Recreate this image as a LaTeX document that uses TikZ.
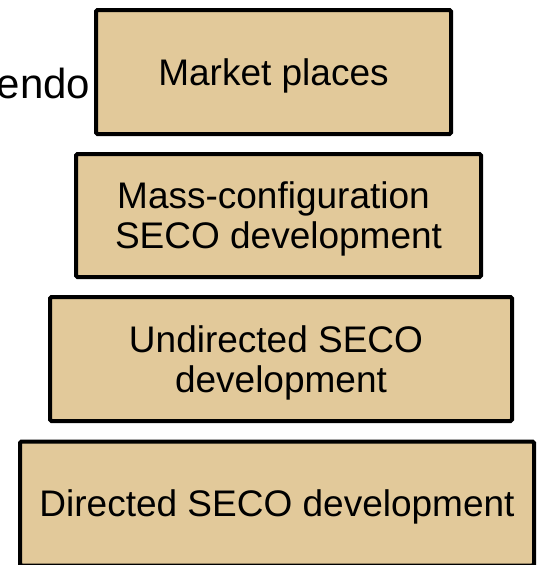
\documentclass[tikz,border=0pt]{standalone}
\usepackage{fontspec}
\setmainfont{Liberation Sans}
\usepackage{xcolor}
\definecolor{layertan}{RGB}{226,201,154}
\tikzset{
  layer/.style={draw=black, fill=layertan, line width=4pt, rounded corners=1.5pt,
    inner sep=0pt, align=center, font=\fontsize{37}{40}\selectfont, text depth=0pt},
}

\begin{document}
\begin{tikzpicture}[x=1pt,y=-1pt]
\useasboundingbox (0,0) rectangle (540,565);

%hidden label
\node[anchor=base east, inner sep=0pt, font=\fontsize{42}{46}\selectfont] (vendor) at (90.5,98) {endo};

%layer 1
\node[layer, minimum width=355pt, minimum height=124pt] (market) at (273.5,72) {Market places};

%layer 2
\node[layer, minimum width=405pt, minimum height=123pt] (massconf) at (278.5,215.5) {Mass-configuration\hspace*{10pt}\\SECO development};

%layer 3
\node[layer, minimum width=462pt, minimum height=124pt] (undirected) at (281,359) {Undirected SECO\hspace*{10pt}\\development};

%layer 4
\node[layer, minimum width=514pt, minimum height=124pt] (directed) at (277,503.5) {Directed SECO development};
\end{tikzpicture}
\end{document}
